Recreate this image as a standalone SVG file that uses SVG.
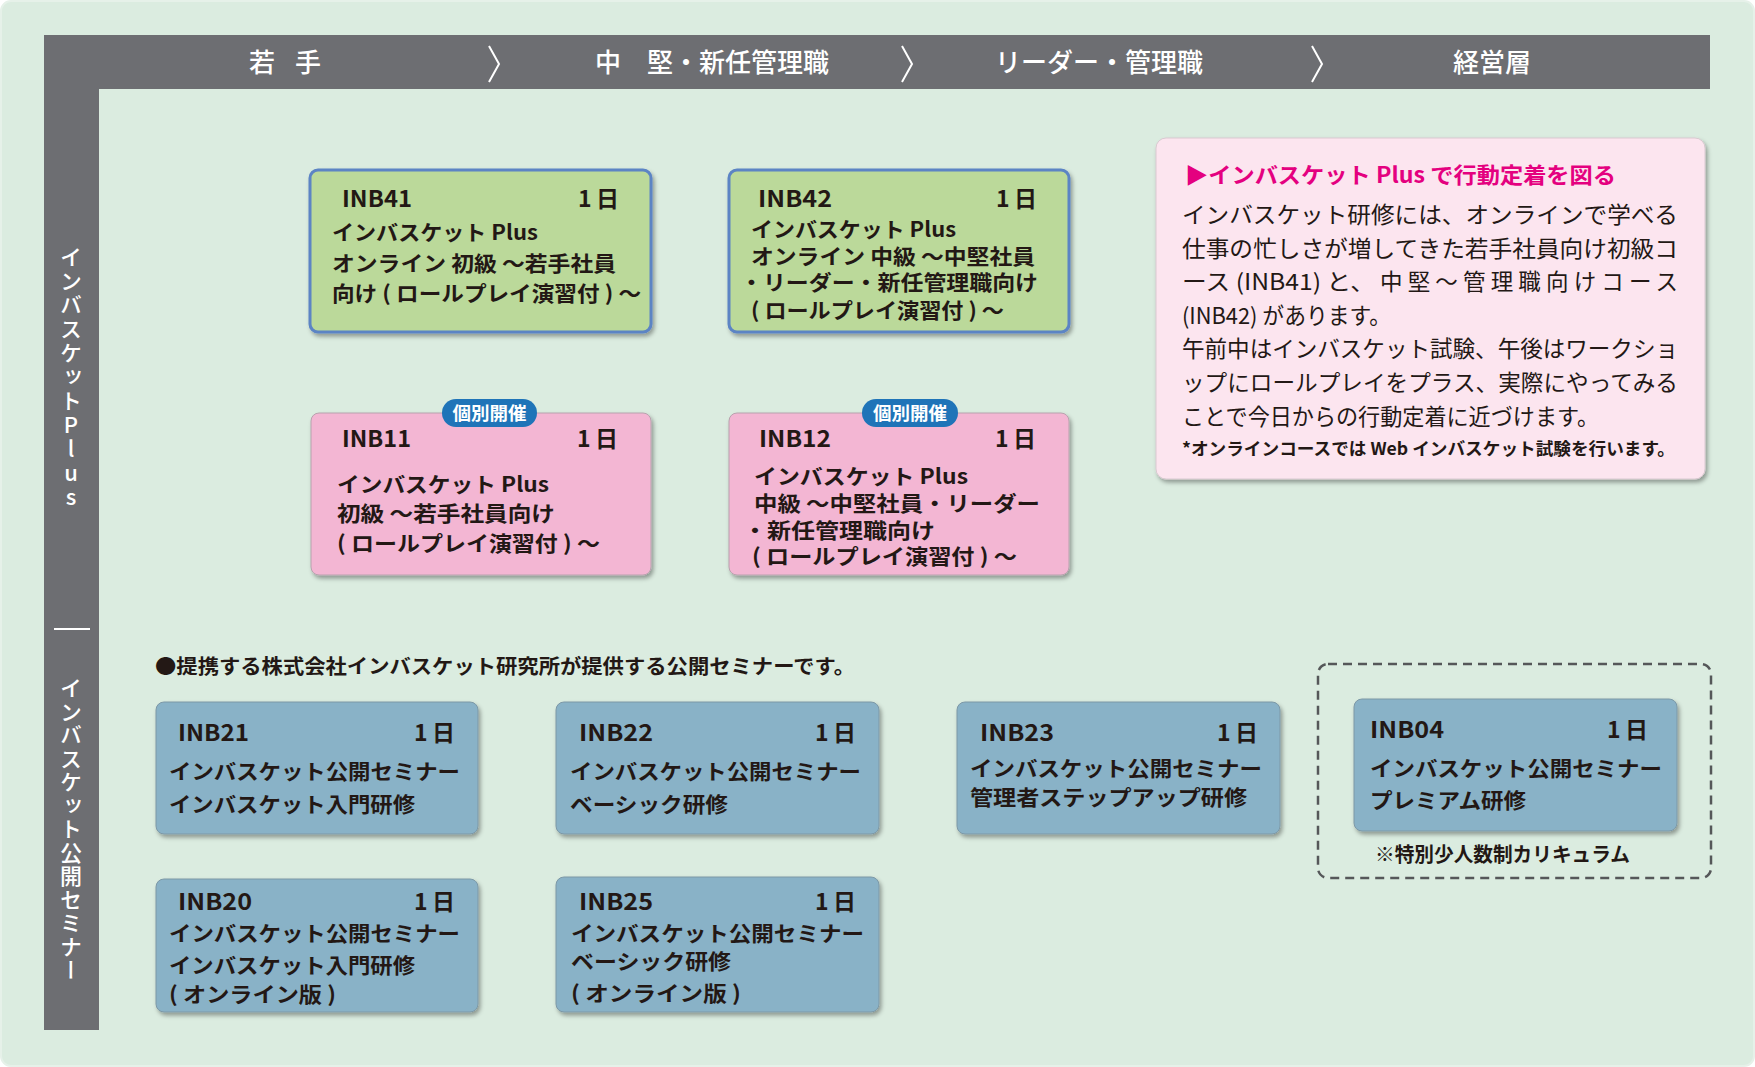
<svg xmlns="http://www.w3.org/2000/svg" width="1755" height="1067" viewBox="0 0 1755 1067">
<defs>
<filter id="sh" x="-10%" y="-10%" width="120%" height="130%">
<feDropShadow dx="2" dy="3" stdDeviation="2" flood-color="#000" flood-opacity="0.35"/>
</filter>
<style>
.hdr{font-family:'Noto Sans CJK JP',sans-serif;font-size:26px;font-weight:500;fill:#ffffff;text-anchor:middle;}
.vt{font-family:'Noto Sans CJK JP',sans-serif;font-size:22px;font-weight:500;fill:#ffffff;writing-mode:vertical-rl;text-orientation:upright;}
.chev{fill:none;stroke:#ffffff;stroke-width:2;}
.green{fill:#bbd99a;stroke:#5b84c4;stroke-width:3;}
.pink{fill:#f3b6d3;stroke:#b7a2ad;stroke-width:1;}
.blue{fill:#89b2c7;stroke:#7d98a6;stroke-width:1;}
.id{font-family:'Noto Sans CJK JP',sans-serif;font-size:23px;font-weight:700;fill:#231815;}
.day{font-family:'Noto Sans CJK JP',sans-serif;font-size:23px;font-weight:700;fill:#231815;text-anchor:end;}
.body{font-family:'Noto Sans CJK JP',sans-serif;font-size:21px;font-weight:700;fill:#231815;}
.badge{fill:#1f74b8;}
.badget{font-family:'Noto Sans CJK JP',sans-serif;font-size:18.5px;font-weight:700;fill:#ffffff;text-anchor:middle;}
.info{font-family:'Noto Sans CJK JP',sans-serif;font-size:22.5px;font-weight:400;fill:#231815;}
.ttl{font-family:'Noto Sans CJK JP',sans-serif;font-size:22px;font-weight:700;fill:#e4007f;}
.note{font-family:'Noto Sans CJK JP',sans-serif;font-size:17.5px;font-weight:700;fill:#231815;}
.lead{font-family:'Noto Sans CJK JP',sans-serif;font-size:20px;font-weight:700;fill:#231815;}
</style>
</defs>
<rect x="0" y="0" width="1755" height="1067" fill="#ffffff"/>
<rect x="1" y="1" width="1753" height="1065" rx="10" fill="#dbece0" stroke="#e6f1e9" stroke-width="2"/>

<g id="frame">
<rect x="44" y="35" width="1666" height="54" fill="#6d6e72"/>
<rect x="44" y="35" width="55" height="995" fill="#6d6e72"/>
<text class="hdr" x="285" y="72" textLength="72" lengthAdjust="spacing">若　手</text>
<text class="hdr" x="712" y="72">中　堅・新任管理職</text>
<text class="hdr" x="1099" y="72">リーダー・管理職</text>
<text class="hdr" x="1492" y="72">経営層</text>
<polyline class="chev" points="489,46 499,64 489,82"/>
<polyline class="chev" points="902,46 912,64 902,82"/>
<polyline class="chev" points="1312,46 1322,64 1312,82"/>
<text class="vt" x="71" y="246" letter-spacing="2">インバスケットPlus</text>
<line x1="54" y1="629" x2="90" y2="629" stroke="#ffffff" stroke-width="2"/>
<text class="vt" x="71" y="677" letter-spacing="1.5">インバスケット公開セミナー</text>
</g>

<g id="connectors"></g>

<g id="INB41">
<rect class="green" x="310" y="170" width="341" height="162" rx="8" filter="url(#sh)"/>
<text class="id" x="342" y="207" textLength="70" lengthAdjust="spacingAndGlyphs">INB41</text>
<text class="day" x="619" y="207" textLength="41" lengthAdjust="spacing">1日</text>
<text class="body" x="332" y="240" textLength="206" lengthAdjust="spacingAndGlyphs">インバスケット Plus</text>
<text class="body" x="332" y="271" textLength="284" lengthAdjust="spacingAndGlyphs">オンライン 初級 〜若手社員</text>
<text class="body" x="332" y="301" textLength="309" lengthAdjust="spacingAndGlyphs">向け ( ロールプレイ演習付 ) 〜</text>
</g>

<g id="INB42">
<rect class="green" x="729" y="170" width="340" height="162" rx="8" filter="url(#sh)"/>
<text class="id" x="758" y="207" textLength="74" lengthAdjust="spacingAndGlyphs">INB42</text>
<text class="day" x="1037" y="207" textLength="41" lengthAdjust="spacing">1日</text>
<text class="body" x="751" y="237" textLength="205" lengthAdjust="spacingAndGlyphs">インバスケット Plus</text>
<text class="body" x="751" y="264" textLength="284" lengthAdjust="spacingAndGlyphs">オンライン 中級 〜中堅社員</text>
<text class="body" x="740" y="290" textLength="298" lengthAdjust="spacingAndGlyphs">・リーダー・新任管理職向け</text>
<text class="body" x="751" y="318" textLength="253" lengthAdjust="spacingAndGlyphs">( ロールプレイ演習付 ) 〜</text>
</g>

<g id="INB11">
<rect class="pink" x="311" y="413" width="340" height="162" rx="8" filter="url(#sh)"/>
<rect class="badge" x="442" y="399" width="95" height="28" rx="14"/>
<text class="badget" x="489.5" y="420">個別開催</text>
<text class="id" x="342" y="447" textLength="69" lengthAdjust="spacingAndGlyphs">INB11</text>
<text class="day" x="618" y="447" textLength="41" lengthAdjust="spacing">1日</text>
<text class="body" x="337" y="492" textLength="212" lengthAdjust="spacingAndGlyphs">インバスケット Plus</text>
<text class="body" x="337" y="521" textLength="218" lengthAdjust="spacingAndGlyphs">初級 〜若手社員向け</text>
<text class="body" x="337" y="551" textLength="263" lengthAdjust="spacingAndGlyphs">( ロールプレイ演習付 ) 〜</text>
</g>

<g id="INB12">
<rect class="pink" x="729" y="413" width="340" height="162" rx="8" filter="url(#sh)"/>
<rect class="badge" x="862" y="399" width="96" height="28" rx="14"/>
<text class="badget" x="910" y="420">個別開催</text>
<text class="id" x="759" y="447" textLength="72" lengthAdjust="spacingAndGlyphs">INB12</text>
<text class="day" x="1036" y="447" textLength="41" lengthAdjust="spacing">1日</text>
<text class="body" x="754" y="484" textLength="214" lengthAdjust="spacingAndGlyphs">インバスケット Plus</text>
<text class="body" x="754" y="511" textLength="286" lengthAdjust="spacingAndGlyphs">中級 〜中堅社員・リーダー</text>
<text class="body" x="743" y="538" textLength="192" lengthAdjust="spacingAndGlyphs">・新任管理職向け</text>
<text class="body" x="752" y="564" textLength="265" lengthAdjust="spacingAndGlyphs">( ロールプレイ演習付 ) 〜</text>
</g>

<g id="info">
<rect x="1156" y="138" width="549" height="341" rx="10" fill="#fce5ef" stroke="#d9c9d0" stroke-width="1" filter="url(#sh)"/>
<text class="ttl" x="1185" y="183" textLength="431" lengthAdjust="spacingAndGlyphs">▶インバスケット Plus で行動定着を図る</text>
<text class="info" x="1182" y="223" textLength="496" lengthAdjust="spacingAndGlyphs">インバスケット研修には、オンラインで学べる</text>
<text class="info" x="1182" y="257" textLength="496" lengthAdjust="spacingAndGlyphs">仕事の忙しさが増してきた若手社員向け初級コ</text>
<text class="info" x="1182" y="290" textLength="193" lengthAdjust="spacingAndGlyphs">ース (INB41) と、</text>
<text class="info" x="1380" y="290" textLength="298" lengthAdjust="spacing">中堅〜管理職向けコース</text>
<text class="info" x="1182" y="324" textLength="209" lengthAdjust="spacingAndGlyphs">(INB42) があります。</text>
<text class="info" x="1182" y="357" textLength="496" lengthAdjust="spacingAndGlyphs">午前中はインバスケット試験、午後はワークショ</text>
<text class="info" x="1182" y="391" textLength="496" lengthAdjust="spacingAndGlyphs">ップにロールプレイをプラス、実際にやってみる</text>
<text class="info" x="1182" y="425" textLength="417" lengthAdjust="spacingAndGlyphs">ことで今日からの行動定着に近づけます。</text>
<text class="note" x="1182" y="455" textLength="493" lengthAdjust="spacingAndGlyphs">*オンラインコースでは Web インバスケット試験を行います。</text>
</g>

<g id="lead">
<text class="lead" x="155" y="674" textLength="700" lengthAdjust="spacingAndGlyphs">●提携する株式会社インバスケット研究所が提供する公開セミナーです。</text>
</g>

<g id="INB21">
<rect class="blue" x="156" y="702" width="322" height="132" rx="8" filter="url(#sh)"/>
<text class="id" x="178" y="741" textLength="71" lengthAdjust="spacingAndGlyphs">INB21</text>
<text class="day" x="455" y="741" textLength="41" lengthAdjust="spacing">1日</text>
<text class="body" x="169" y="779" textLength="291" lengthAdjust="spacingAndGlyphs">インバスケット公開セミナー</text>
<text class="body" x="169" y="812" textLength="246" lengthAdjust="spacingAndGlyphs">インバスケット入門研修</text>
</g>

<g id="INB22">
<rect class="blue" x="556" y="702" width="323" height="132" rx="8" filter="url(#sh)"/>
<text class="id" x="579" y="741" textLength="74" lengthAdjust="spacingAndGlyphs">INB22</text>
<text class="day" x="856" y="741" textLength="41" lengthAdjust="spacing">1日</text>
<text class="body" x="570" y="779" textLength="291" lengthAdjust="spacingAndGlyphs">インバスケット公開セミナー</text>
<text class="body" x="570" y="812" textLength="158" lengthAdjust="spacingAndGlyphs">ベーシック研修</text>
</g>

<g id="INB23">
<rect class="blue" x="957" y="702" width="323" height="132" rx="8" filter="url(#sh)"/>
<text class="id" x="980" y="741" textLength="74" lengthAdjust="spacingAndGlyphs">INB23</text>
<text class="day" x="1258" y="741" textLength="41" lengthAdjust="spacing">1日</text>
<text class="body" x="970" y="776" textLength="292" lengthAdjust="spacingAndGlyphs">インバスケット公開セミナー</text>
<text class="body" x="970" y="805" textLength="277" lengthAdjust="spacingAndGlyphs">管理者ステップアップ研修</text>
</g>

<g id="premium">
<rect x="1318" y="664" width="393" height="214" rx="10" fill="none" stroke="#555759" stroke-width="2.5" stroke-dasharray="9,6"/>
<g id="INB04">
<rect class="blue" x="1354" y="699" width="323" height="132" rx="8" filter="url(#sh)"/>
<text class="id" x="1370" y="738" textLength="74" lengthAdjust="spacingAndGlyphs">INB04</text>
<text class="day" x="1648" y="738" textLength="41" lengthAdjust="spacing">1日</text>
<text class="body" x="1370" y="776" textLength="292" lengthAdjust="spacingAndGlyphs">インバスケット公開セミナー</text>
<text class="body" x="1370" y="808" textLength="156" lengthAdjust="spacingAndGlyphs">プレミアム研修</text>
</g>
<text class="lead" x="1375" y="862" textLength="255" lengthAdjust="spacingAndGlyphs">※特別少人数制カリキュラム</text>
</g>

<g id="INB20">
<rect class="blue" x="156" y="879" width="322" height="133" rx="8" filter="url(#sh)"/>
<text class="id" x="178" y="910" textLength="74" lengthAdjust="spacingAndGlyphs">INB20</text>
<text class="day" x="455" y="910" textLength="41" lengthAdjust="spacing">1日</text>
<text class="body" x="169" y="941" textLength="291" lengthAdjust="spacingAndGlyphs">インバスケット公開セミナー</text>
<text class="body" x="169" y="973" textLength="246" lengthAdjust="spacingAndGlyphs">インバスケット入門研修</text>
<text class="body" x="169" y="1002" textLength="167" lengthAdjust="spacingAndGlyphs">( オンライン版 )</text>
</g>

<g id="INB25">
<rect class="blue" x="556" y="877" width="323" height="135" rx="8" filter="url(#sh)"/>
<text class="id" x="579" y="910" textLength="74" lengthAdjust="spacingAndGlyphs">INB25</text>
<text class="day" x="856" y="910" textLength="41" lengthAdjust="spacing">1日</text>
<text class="body" x="571" y="941" textLength="293" lengthAdjust="spacingAndGlyphs">インバスケット公開セミナー</text>
<text class="body" x="571" y="969" textLength="160" lengthAdjust="spacingAndGlyphs">ベーシック研修</text>
<text class="body" x="571" y="1001" textLength="170" lengthAdjust="spacingAndGlyphs">( オンライン版 )</text>
</g>
</svg>
